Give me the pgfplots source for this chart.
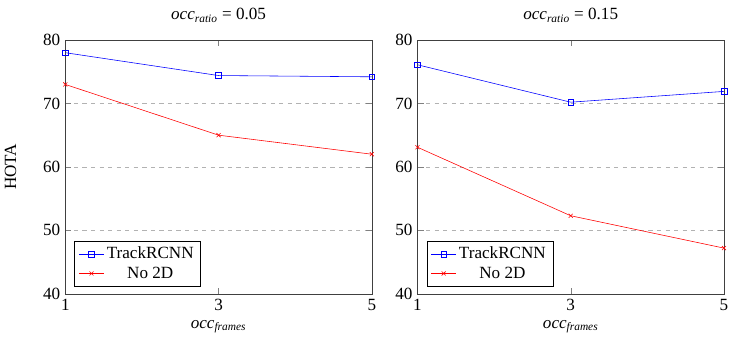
\documentclass[border=0pt]{standalone}
\usepackage{fontspec}
\setmainfont{Liberation Serif}
\usepackage{pgfplots}
\pgfplotsset{compat=1.18}
\usepgfplotslibrary{groupplots}
\begin{document}
\begin{tikzpicture}
\begin{groupplot}[
  group style={group size=2 by 1, horizontal sep=32pt},
  scale only axis,
  width=215pt, height=178pt,
  xmin=1, xmax=5, ymin=40, ymax=80,
  xtick={1,3,5}, ytick={40,50,60,70,80},
  ymajorgrids, grid style={dashed, gray!60},
  axis line style={black!75},
  major tick style={gray},
  /pgf/number format/assume math mode=true,
  tick label style={font=\large},
  label style={font=\large},
  title style={font=\large, inner ysep=6pt},
  ylabel shift=12pt,
  xlabel={\textit{occ}\textsubscript{\textit{frames}}},
  legend pos=south west,
  legend cell align=center,
  legend style={font=\large},
]
\nextgroupplot[title={\textit{occ}\textsubscript{\textit{ratio}} = 0.05}, ylabel={HOTA}]
\addplot[blue, mark=square] coordinates {(1,78.0) (3,74.4) (5,74.2)};
\addplot[red, mark=x] coordinates {(1,73.0) (3,65.0) (5,62.0)};
\legend{TrackRCNN, No 2D}
\nextgroupplot[title={\textit{occ}\textsubscript{\textit{ratio}} = 0.15}]
\addplot[blue, mark=square] coordinates {(1,76.1) (3,70.2) (5,71.9)};
\addplot[red, mark=x] coordinates {(1,63.1) (3,52.3) (5,47.2)};
\legend{TrackRCNN, No 2D}
\end{groupplot}
\end{tikzpicture}
\end{document}
